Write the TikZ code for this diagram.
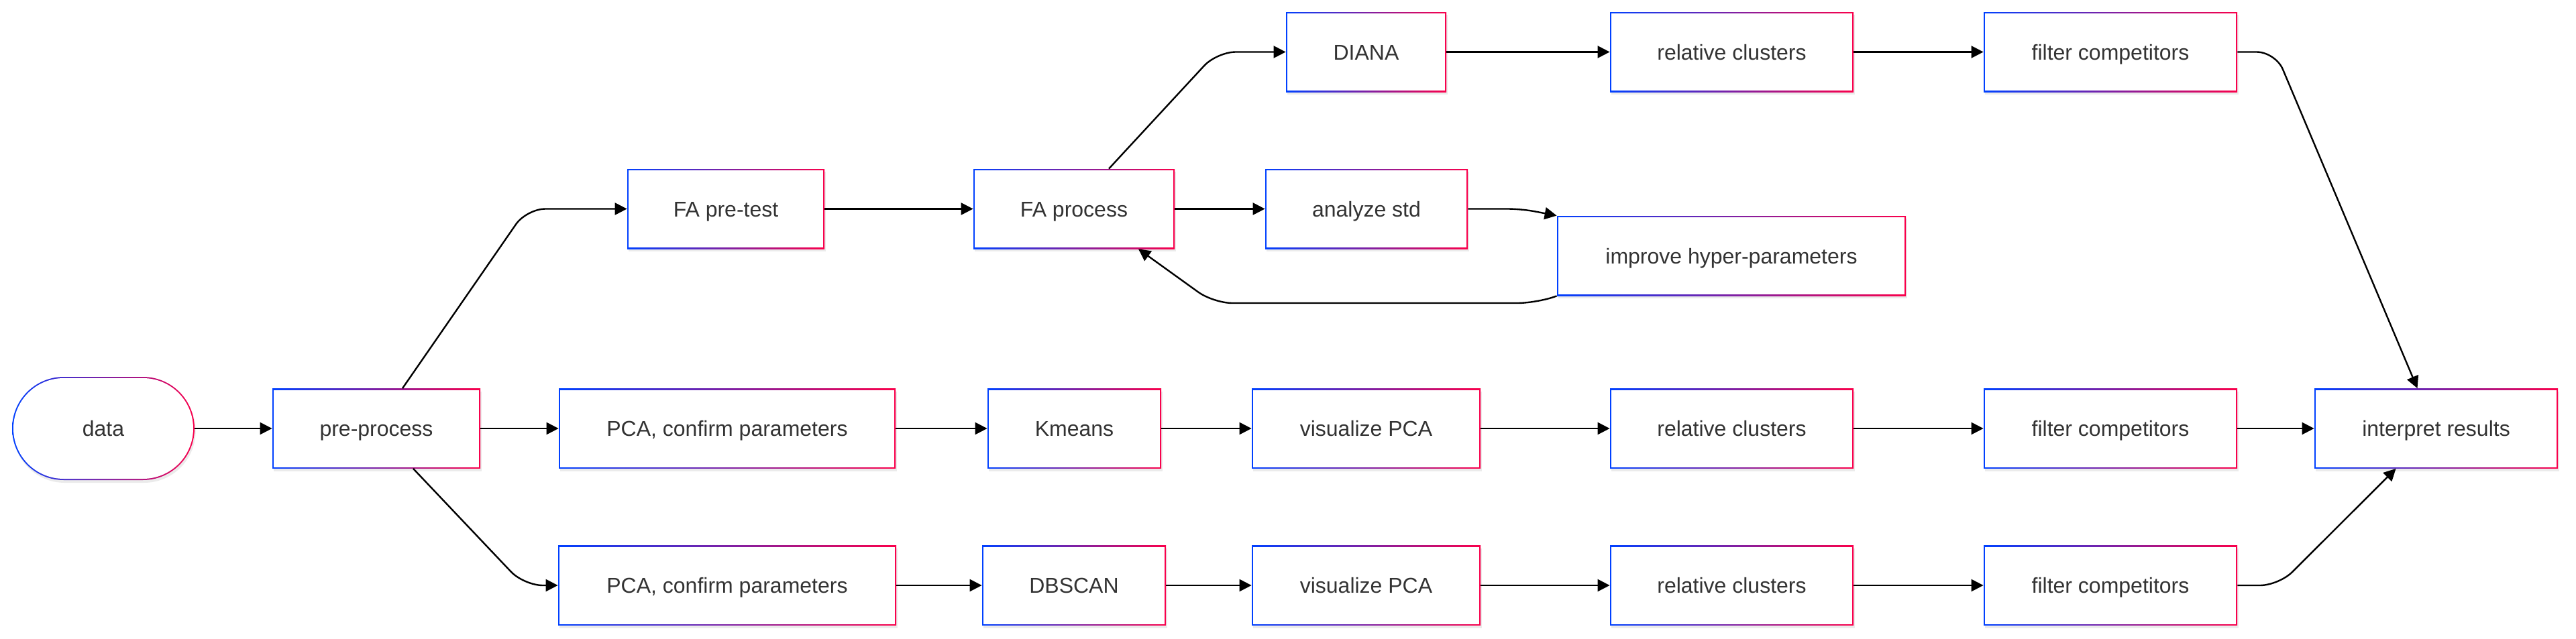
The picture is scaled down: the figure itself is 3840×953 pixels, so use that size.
\documentclass[tikz,border=0pt]{standalone}
\usepackage{fontspec}
\setmainfont{Liberation Sans}
\usetikzlibrary{arrows.meta,calc,shadows}
\definecolor{cblue}{RGB}{0,64,255}
\definecolor{cred}{RGB}{250,0,75}
\definecolor{txt}{RGB}{51,51,51}
\tikzset{
  gbox/.style={rectangle, inner sep=0pt, text=txt,
    font=\fontsize{16}{19}\selectfont, text height=11.5pt, text depth=0pt,
    minimum height=59.5pt,
    drop shadow={shadow xshift=0.8pt, shadow yshift=-2pt, opacity=0.08, fill=black},
    path picture={
      \shade[left color=cblue, right color=cred]
        (path picture bounding box.south west) rectangle (path picture bounding box.north east);
      \fill[white]
        ([shift={(1pt,1pt)}]path picture bounding box.south west) rectangle
        ([shift={(-1pt,-1pt)}]path picture bounding box.north east);
    }},
  stadium/.style={rectangle, rounded corners=38.5pt, inner sep=0pt, text=txt,
    font=\fontsize{16}{19}\selectfont, text height=11.5pt, text depth=0pt,
    minimum height=77pt, minimum width=136pt,
    drop shadow={shadow xshift=0.8pt, shadow yshift=-2pt, opacity=0.08, fill=black},
    path picture={
      \shade[left color=cblue, right color=cred]
        (path picture bounding box.south west) rectangle (path picture bounding box.north east);
      \fill[white, rounded corners=37.5pt]
        ([shift={(1pt,1pt)}]path picture bounding box.south west) rectangle
        ([shift={(-1pt,-1pt)}]path picture bounding box.north east);
    }},
  arr/.style={draw=black, line width=1.2pt, -{Triangle[length=9pt,width=9pt]}, rounded corners=14pt},
}
\begin{document}
\begin{tikzpicture}[x=0.5pt,y=-0.5pt]
\useasboundingbox (0,0) rectangle (3840,953);
% nodes
\node[stadium] (data) at (154,639) {data};
\node[gbox, minimum width=155pt] (pp) at (561,639) {pre-process};
\node[gbox, minimum width=147pt] (fapre) at (1082,311.5) {FA pre-test};
\node[gbox, minimum width=150pt] (faproc) at (1601,311.5) {FA process};
\node[gbox, minimum width=119.5pt] (diana) at (2036.5,77.5) {DIANA};
\node[gbox, minimum width=181.5pt] (relc1) at (2581.5,77.5) {relative clusters};
\node[gbox, minimum width=189pt] (filt1) at (3146,77.5) {filter competitors};
\node[gbox, minimum width=151pt] (anstd) at (2037,311.5) {analyze std};
\node[gbox, minimum width=260pt] (improve) at (2581,381.5) {improve hyper-parameters};
\node[gbox, minimum width=251pt] (pca1) at (1084,639) {PCA, confirm parameters};
\node[gbox, minimum width=129.5pt] (kmeans) at (1601.5,639) {Kmeans};
\node[gbox, minimum width=170.5pt] (vis1) at (2036.5,639) {visualize PCA};
\node[gbox, minimum width=181.5pt] (relc2) at (2581.5,639) {relative clusters};
\node[gbox, minimum width=189pt] (filt2) at (3146,639) {filter competitors};
\node[gbox, minimum width=181.5pt] (interp) at (3631.5,639) {interpret results};
\node[gbox, minimum width=252pt] (pca2) at (1084,873) {PCA, confirm parameters};
\node[gbox, minimum width=137pt] (dbscan) at (1601,873) {DBSCAN};
\node[gbox, minimum width=170.5pt] (vis2) at (2036.5,873) {visualize PCA};
\node[gbox, minimum width=181.5pt] (relc3) at (2581.5,873) {relative clusters};
\node[gbox, minimum width=189pt] (filt3) at (3146,873) {filter competitors};
% edges
\draw[arr] (data) -- (pp);
\draw[arr] ($(pp.north)+(39,0)$) -- (785,311.5) -- (fapre.west);
\draw[arr] (pp) -- (pca1);
\draw[arr] ($(pp.south)+(55,0)$) -- (781,873) -- (pca2.west);
\draw[arr] (fapre) -- (faproc);
\draw[arr] ($(faproc.north)+(52,0)$) -- (1814,77.5) -- (diana.west);
\draw[arr] (faproc) -- (anstd);
\draw[arr, rounded corners=10pt] (anstd.east) -- (2268,311.5) -- (improve.north west);
\draw[arr] (improve.south west) -- (2290,452) -- (1809,452) -- ($(faproc.south)+(96,0)$);
\draw[arr] (diana) -- (relc1);
\draw[arr] (relc1) -- (filt1);
\draw[arr] (filt1.east) -- (3392,77.5) -- ($(interp.north)+(-28,0)$);
\draw[arr] (pca1) -- (kmeans);
\draw[arr] (kmeans) -- (vis1);
\draw[arr] (vis1) -- (relc2);
\draw[arr] (relc2) -- (filt2);
\draw[arr] (filt2) -- (interp);
\draw[arr] (pca2) -- (dbscan);
\draw[arr] (dbscan) -- (vis2);
\draw[arr] (vis2) -- (relc3);
\draw[arr] (relc3) -- (filt3);
\draw[arr] (filt3.east) -- (3397,873) -- ($(interp.south)+(-60,0)$);
\end{tikzpicture}
\end{document}
